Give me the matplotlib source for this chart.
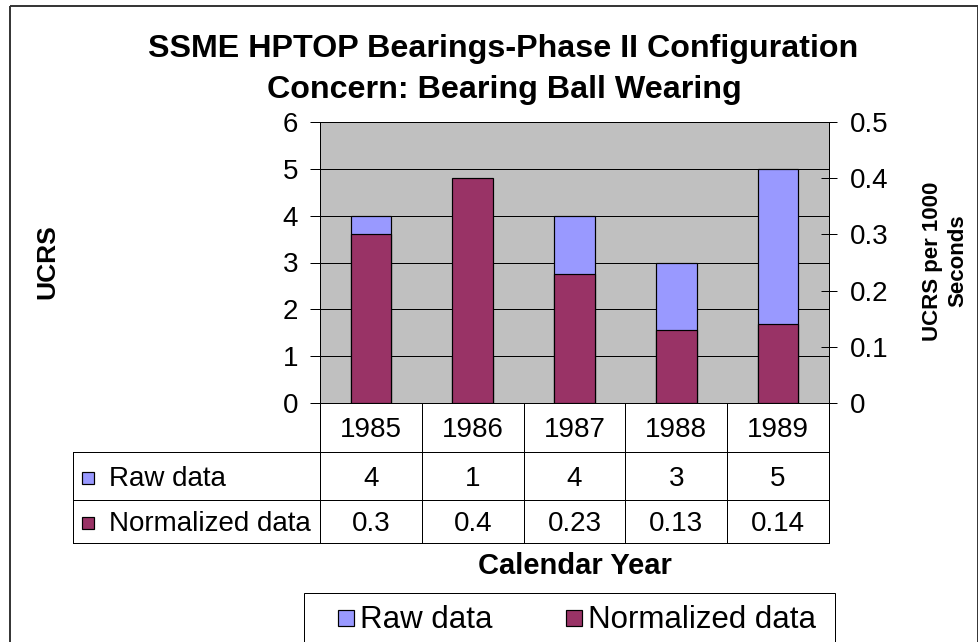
import matplotlib
matplotlib.use("Agg")
import matplotlib.pyplot as plt
from matplotlib.patches import Rectangle
from matplotlib import transforms

W, H = 979, 642

years = ["1985", "1986", "1987", "1988", "1989"]
raw_data = [4, 1, 4, 3, 5]
normalized_data = [0.3, 0.4, 0.23, 0.13, 0.14]
raw_labels = ["4", "1", "4", "3", "5"]
norm_labels = ["0.3", "0.4", "0.23", "0.13", "0.14"]
series_names = ["Raw data", "Normalized data"]
left_ticks = [0, 1, 2, 3, 4, 5, 6]
right_ticks = [0, 0.1, 0.2, 0.3, 0.4, 0.5]

RAW = "#9999FF"
NORM = "#993366"
PLOT_BG = "#C0C0C0"
INK = "black"

plt.rcParams["font.family"] = ["Liberation Sans", "DejaVu Sans"]

PX = 0.72  # one pixel in points at dpi 100


def frac(x0, y0, x1, y1):
    return [x0 / W, 1 - y1 / H, (x1 - x0) / W, (y1 - y0) / H]


fig = plt.figure(figsize=(W / 100, H / 100), dpi=100, facecolor="white")
canvas = fig.add_axes([0, 0, 1, 1])
canvas.set_xlim(0, W)
canvas.set_ylim(H, 0)
canvas.axis("off")

# outer chart border (bottom runs off the image)
canvas.add_patch(Rectangle((10, 6), 968, 700, facecolor="none", edgecolor="#333333", lw=1.4))

# plot area
PL, PR, PT, PB = 320, 829, 122, 403
ax = fig.add_axes(frac(PL, PT, PR, PB), facecolor=PLOT_BG)
ax2 = ax.twinx()

x = list(range(len(years)))
ax.bar(x, raw_data, width=0.4, color=RAW, edgecolor=INK, lw=1.2 * PX, zorder=3)
ax2.bar(x, normalized_data, width=0.4, color=NORM, edgecolor=INK, lw=1.2 * PX, zorder=3)

ax.set_xlim(-0.5, len(years) - 0.5)
ax.set_ylim(0, 6)
ax2.set_ylim(0, 0.5)
ax.set_xticks([])
ax.set_yticks(left_ticks)
ax2.set_yticks(right_ticks)
ax2.set_yticklabels([("%g" % t) for t in right_ticks])

ax.set_axisbelow(True)
ax.yaxis.grid(True, color=INK, lw=1 * PX)
for sp in ax.spines.values():
    sp.set_color(INK)
    sp.set_linewidth(1 * PX)
for sp in ax2.spines.values():
    sp.set_visible(False)
ax2.spines["right"].set_visible(True)
ax2.spines["right"].set_color(INK)
ax2.spines["right"].set_linewidth(1 * PX)

ax.tick_params(axis="y", direction="out", length=10 * PX, width=1 * PX,
               labelsize=20, pad=12 * PX, colors=INK)
ax2.tick_params(axis="y", direction="inout", length=16 * PX, width=1 * PX,
                labelsize=20, pad=13 * PX, colors=INK)

# title
canvas.text(503, 49, "SSME HPTOP Bearings-Phase II Configuration", ha="center", va="center",
            fontsize=23.2, weight="bold")
canvas.text(504, 90, "Concern: Bearing Ball Wearing", ha="center", va="center",
            fontsize=23.2, weight="bold")

# axis titles
canvas.text(47, 262, "UCRS", rotation=90, ha="center", va="center", fontsize=19, weight="bold")
canvas.text(945, 261, "UCRS per 1000\nSeconds", rotation=90, ha="center", va="center",
            multialignment="center", fontsize=16, weight="bold", linespacing=1.3)

# data table under the plot
TL = 73
rows = [PB, 452, 500, 543]
n = len(years)
col_w = (PR - PL) / n
for i in range(n + 1):
    cx = PL + i * col_w
    canvas.plot([cx, cx], [PB, rows[-1]], color=INK, lw=1 * PX)
canvas.plot([TL, TL], [rows[1], rows[-1]], color=INK, lw=1 * PX)
for ry in rows[1:]:
    canvas.plot([TL, PR], [ry, ry], color=INK, lw=1 * PX)

tr = transforms.blended_transform_factory(ax.transData, canvas.transData)
row_mid = [(rows[k] + rows[k + 1]) / 2 + 2.5 for k in range(3)]
for i in range(n):
    ax.text(x[i], row_mid[0], years[i], transform=tr, ha="center", va="center", fontsize=20)
    ax.text(x[i], row_mid[1], raw_labels[i], transform=tr, ha="center", va="center", fontsize=20)
    ax.text(x[i], row_mid[2], norm_labels[i], transform=tr, ha="center", va="center", fontsize=20)

for k, (name, col) in enumerate(zip(series_names, [RAW, NORM])):
    cy = row_mid[k + 1]
    canvas.add_patch(Rectangle((82, cy - 7), 12, 12, facecolor=col, edgecolor=INK, lw=1.2 * PX))
    canvas.text(109, cy, name, ha="left", va="center", fontsize=20)

canvas.text((PL + PR) / 2, 566, "Calendar Year", ha="center", va="center", fontsize=21, weight="bold")

# legend (box runs off the bottom edge)
canvas.add_patch(Rectangle((304, 593), 531, 120, facecolor="white", edgecolor=INK, lw=1 * PX))
leg_sq = [338, 566]
leg_tx = [360, 588]
for name, col, sx, tx in zip(series_names, [RAW, NORM], leg_sq, leg_tx):
    canvas.add_patch(Rectangle((sx, 610), 16, 16, facecolor=col, edgecolor=INK, lw=1.2 * PX))
    canvas.text(tx, 620, name, ha="left", va="center", fontsize=22.5)

fig.savefig("out.png", dpi=100, facecolor="white")
